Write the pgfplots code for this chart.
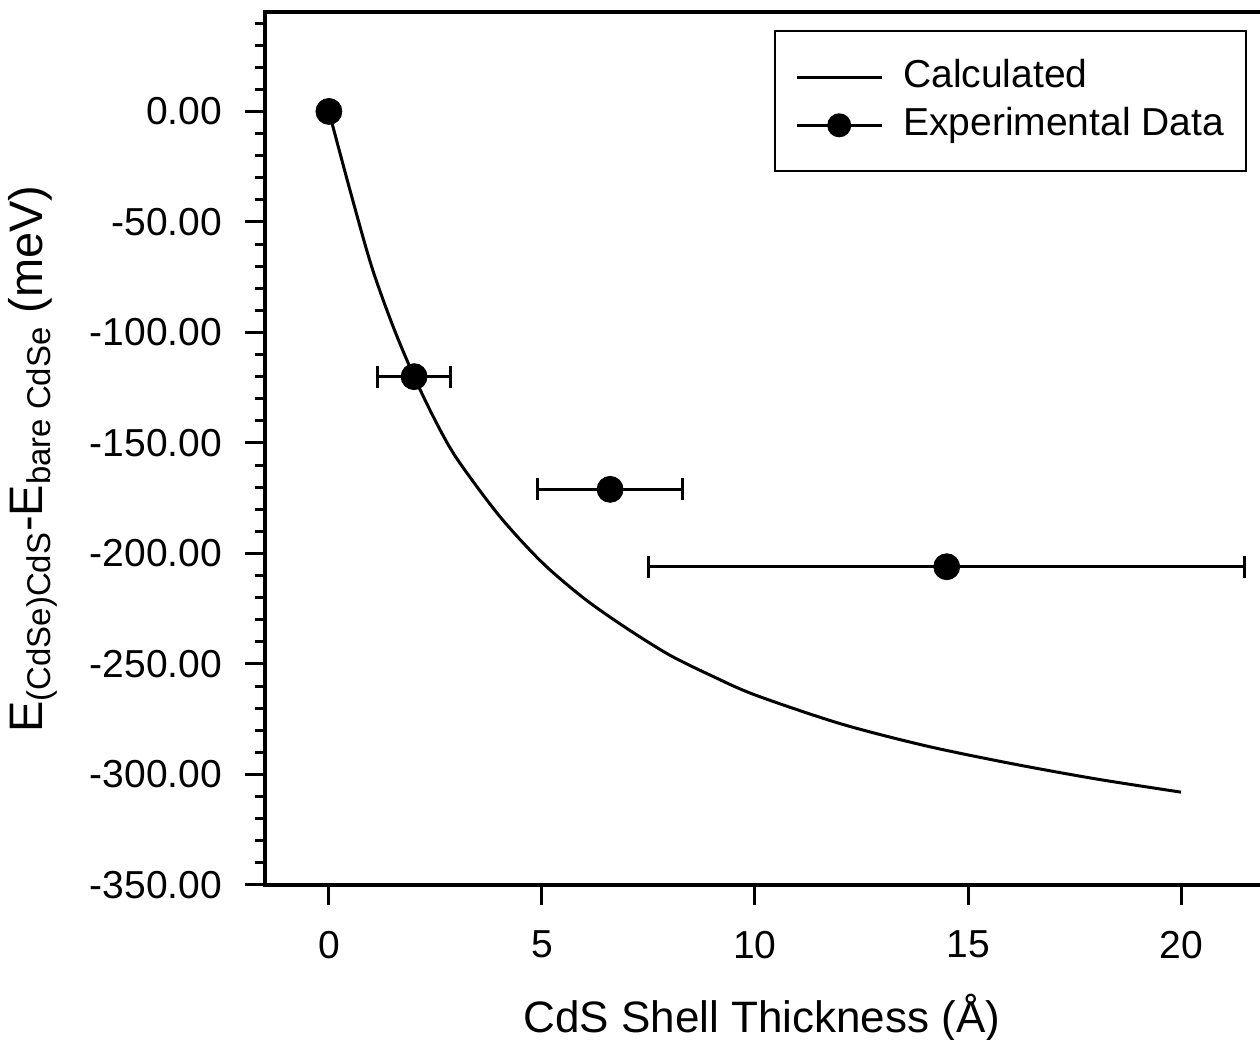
\documentclass[border=0pt]{standalone}
\usepackage{fontspec}
\setmainfont{Liberation Sans}
\usepackage{pgfplots}
\pgfplotsset{compat=1.18}
\usetikzlibrary{calc}

\begin{document}
\begin{tikzpicture}
\begin{axis}[
  scale only axis,
  width=498.5pt, height=436.5pt,
  xmin=-1.5, xmax=21.9,
  ymin=-350, ymax=45,
  xtick={0,5,10,15,20},
  ytick={-350,-300,-250,-200,-150,-100,-50,0},
  yticklabels={-350.00,-300.00,-250.00,-200.00,-150.00,-100.00,-50.00,0.00},
  minor ytick={-340,-330,...,40},
  axis line style={line width=2pt},
  tick align=outside,
  xtick pos=lower, ytick pos=left,
  major tick length=10pt,
  minor tick length=5pt,
  every tick/.style={line width=1.5pt, black},
  /pgf/number format/assume math mode=true,
  tick label style={font=\fontsize{19.5}{23}\selectfont},
  yticklabel style={xshift=-8pt},
  xticklabel style={yshift=-9.5pt},
  legend style={
    at={(0.985,0.979)}, anchor=north east,
    draw=black, line width=1pt,
    font=\fontsize{19.5}{23}\selectfont,
    inner xsep=10pt, inner ysep=13pt,
    row sep=4pt,
    /tikz/every odd column/.append style={column sep=9pt},
    nodes={inner sep=1pt, text height=14pt, text depth=4pt},
  },
  legend cell align=left,
]
\coordinate (bl) at (rel axis cs:0,0);
\coordinate (tr) at (rel axis cs:1,1);

\addplot[black, line width=1.5pt, smooth,
  legend image code/.code={\draw[black, line width=1.5pt] (0pt,0pt) -- (42.5pt,0pt);}]
  coordinates {
  (0,0) (0.5,-36) (1.0,-70) (1.5,-97) (2.0,-120) (2.5,-140) (3,-157)
  (4,-183) (5,-204) (6,-220.5) (7,-234) (8,-246) (9,-255.5) (10,-264)
  (12,-277) (14,-287) (16,-295) (18,-302) (20,-308)
  };
\addlegendentry{Calculated}

\addplot[black, only marks, mark=*, mark size=6.5pt,
  legend image code/.code={
    \draw[black, line width=1.5pt] (0pt,0pt) -- (42.5pt,0pt);
    \fill[black] (21.25pt,0pt) circle (5.5pt);},
  error bars/.cd, x dir=both, x explicit,
  error bar style={line width=1.5pt},
  error mark options={rotate=90, mark size=5.5pt, line width=1.5pt},
  ]
  table[x=x, y=y, x error=ex] {
  x y ex
  0 0 0
  2.0 -120 0.85
  6.6 -171 1.7
  14.5 -206 7.0
  };
\addlegendentry{Experimental Data}
\end{axis}
\node[font=\fontsize{22}{26}\selectfont] at ($(bl)+(248.5pt,-66.5pt)$) {CdS Shell Thickness (Å)};
\node[rotate=90, font=\fontsize{23.5}{28}\selectfont] at ($(bl)+(-116pt,213pt)$)
  {E\textsubscript{(CdSe)CdS}-E\textsubscript{bare CdSe} (meV)};
\pgfresetboundingbox
\useasboundingbox ($(bl)+(-132.5pt,-77.5pt)$) rectangle ($(tr)+(-1pt,6pt)$);
\end{tikzpicture}
\end{document}
